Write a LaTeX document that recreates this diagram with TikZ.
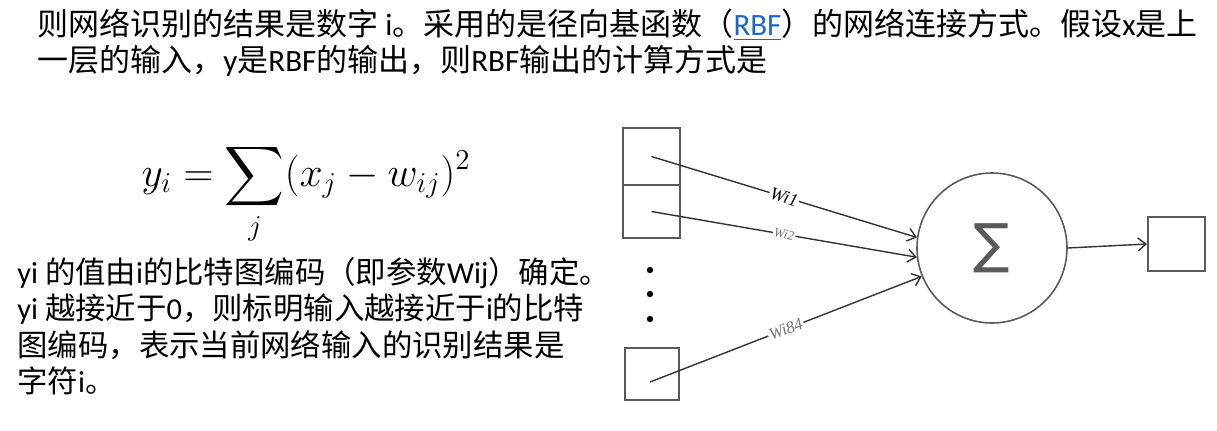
\documentclass[tikz,border=0pt]{standalone}
\usepackage{exscale}
\usepackage{fontspec}
\setmainfont{Carlito}
\newfontfamily\cjkfont{Noto Sans CJK SC}
\newfontfamily\symfont{DejaVu Sans}
\newfontfamily\lblfont{Liberation Serif}
\newcommand{\zh}[1]{{\cjkfont #1}}
\usepackage{xcolor}
\usetikzlibrary{positioning, arrows.meta}
\definecolor{linkblue}{HTML}{1F66C2}
\definecolor{boxgray}{HTML}{5A5A5A}
\definecolor{wiregray}{HTML}{333333}
\definecolor{lblgray}{HTML}{777777}

\begin{document}
\begin{tikzpicture}[
    x=0.5pt, y=-0.5pt,
    head/.style={anchor=west, inner sep=0pt, font=\fontsize{15.5}{18}\selectfont},
    para/.style={anchor=west, inner sep=0pt, font=\fontsize{15.2}{18}\selectfont},
    cell/.style={draw=boxgray, line width=1pt, minimum width=28.5pt, inner sep=0pt},
    neuron/.style={draw=boxgray, circle, line width=0.8pt, minimum size=75pt, inner sep=0pt},
    wire/.style={draw=wiregray, line width=0.7pt, -{Straight Barb[length=4pt, width=6.5pt]}},
    wlabel/.style={sloped, fill=white, inner sep=0.6pt, font=\lblfont\itshape\fontsize{9}{10}\selectfont},
    dot/.style={circle, fill=black, minimum size=3.2pt, inner sep=0pt},
]
\useasboundingbox (0,0) rectangle (1217,430);

% Text above
\node[head] (l1) at (37,25) {\zh{则网络识别的结果是数字} i\zh{。采用的是径向基函数（}\textcolor{linkblue}{\underline{RBF}}\zh{）的网络连接方式。假设}x\zh{是上}};
\node[head] (l2) at (37,61) {\zh{一层的输入，}y\zh{是}RBF\zh{的输出，则}RBF\zh{输出的计算方式是}};

% Formula
\node (eq) at (306,194) {\fontsize{20.74}{24}\selectfont $\displaystyle y_i = \sum_j (x_j - w_{ij})^2$};

% Explanation
\node[para] (p1) at (17,273) {yi \zh{的值由}i\zh{的比特图编码（即参数}Wij\zh{）确定。}};
\node[para] (p2) at (17,309) {yi \zh{越接近于}0\zh{，则标明输入越接近于}i\zh{的比特}};
\node[para] (p3) at (17,345) {\zh{图编码，表示当前网络输入的识别结果是}};
\node[para] (p4) at (17,381) {\zh{字符}i\zh{。}};

% Inputs
\node[cell, minimum height=28.5pt] (in1) at (651.5,156.5) {};
\node[cell, minimum height=26.5pt] (in2) at (651.5,211.5) {};
\node[cell, minimum width=27pt, minimum height=26pt] (in84) at (652,374) {};
\coordinate (src84) at (650,382);
\foreach \y [count=\k] in {270,294,319}
    \node[dot] (dot\k) at (650,\y) {};

% Summation unit and output
\node[neuron] (sum) at (992,248) {\symfont\fontsize{27}{27}\selectfont\color{boxgray}∑};
\node[cell, minimum height=27pt] (out) at (1176.5,244) {};

% Weighted links
\draw[wire] (in1.center) -- node[wlabel] {Wi1} (sum.172);
\draw[wire] (in2.center) -- node[wlabel, text=lblgray, font=\lblfont\itshape\fontsize{6.5}{7}\selectfont] {Wi2} (sum.187);
\draw[wire] (src84) -- node[wlabel, text=lblgray, font=\lblfont\itshape\fontsize{8.5}{9}\selectfont] {Wi84} (sum.202);
\draw[wire] (sum.east) -- (out.west);
\end{tikzpicture}
\end{document}
